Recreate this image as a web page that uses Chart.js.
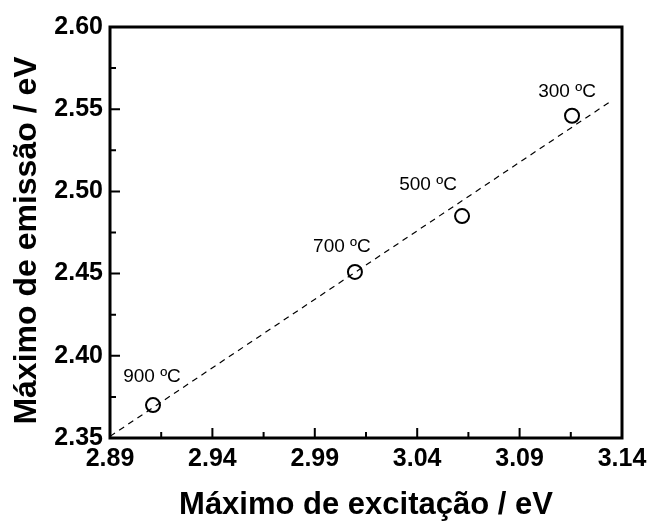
<!DOCTYPE html>
<html>
<head>
<meta charset="utf-8">
<script src="https://cdn.jsdelivr.net/npm/chart.js@4"></script>
<style>
  html, body { margin: 0; padding: 0; background: #fff; }
  #wrap { width: 647px; height: 524px; }
</style>
</head>
<body>
<div id="wrap"><canvas id="chart"></canvas></div>
<script>
// values
const temperatures = ["900 ºC", "700 ºC", "500 ºC", "300 ºC"];
const excitation = [2.911, 3.0096, 3.0619, 3.1156];
const emission = [2.370, 2.451, 2.485, 2.546];

// linear fit drawn as dashed line (end points)
const fitX = [2.89, 3.134];
const fitY = [2.351, 2.5544];

const xTicks = [2.89, 2.94, 2.99, 3.04, 3.09, 3.14];
const yTicks = [2.35, 2.40, 2.45, 2.50, 2.55, 2.60];

const yTitle = "Máximo de emissão / eV";
const xTitle = "Máximo de excitação / eV";

const FONT = "'Liberation Sans', Arial, sans-serif";

// label offsets from each point (px)
const labelOffsets = [[-1, -28], [-13, -25], [-34, -31], [-5, -24]];

const framePlugin = {
    id: "frame",
    afterDraw(chart) {
        const { ctx, chartArea: a, scales } = chart;
        ctx.save();
        ctx.strokeStyle = "#000";

        // inward ticks, major + minor
        ctx.lineWidth = 2;
        ctx.beginPath();
        for (let i = 0; i < xTicks.length; i++) {
            const px = scales.x.getPixelForValue(xTicks[i]);
            ctx.moveTo(px, a.bottom);
            ctx.lineTo(px, a.bottom - 10);
            if (i < xTicks.length - 1) {
                const pm = scales.x.getPixelForValue((xTicks[i] + xTicks[i + 1]) / 2);
                ctx.moveTo(pm, a.bottom);
                ctx.lineTo(pm, a.bottom - 6);
            }
        }
        for (let i = 0; i < yTicks.length; i++) {
            const py = scales.y.getPixelForValue(yTicks[i]);
            ctx.moveTo(a.left, py);
            ctx.lineTo(a.left + 10, py);
            if (i < yTicks.length - 1) {
                const pm = scales.y.getPixelForValue((yTicks[i] + yTicks[i + 1]) / 2);
                ctx.moveTo(a.left, pm);
                ctx.lineTo(a.left + 6, pm);
            }
        }
        ctx.stroke();

        // box
        ctx.lineWidth = 3;
        ctx.strokeRect(a.left, a.top, a.right - a.left, a.bottom - a.top);

        // temperature labels
        ctx.fillStyle = "#000";
        ctx.font = "19px " + FONT;
        ctx.textAlign = "center";
        ctx.textBaseline = "middle";
        const meta = chart.getDatasetMeta(1);
        meta.data.forEach((pt, i) => {
            const off = labelOffsets[i];
            ctx.fillText(temperatures[i], pt.x + off[0], pt.y + off[1]);
        });

        // y axis title, a bit below the axis centre as in the original
        ctx.translate(27, (a.top + a.bottom) / 2 + 8);
        ctx.rotate(-Math.PI / 2);
        ctx.font = "bold 32px " + FONT;
        ctx.fillText(yTitle, 0, 0);
        ctx.restore();
    }
};

new Chart(document.getElementById("chart"), {
    type: "scatter",
    data: {
        datasets: [
            {
                type: "line",
                data: fitX.map((x, i) => ({ x: x, y: fitY[i] })),
                borderColor: "#000",
                borderWidth: 1.2,
                borderDash: [6, 5],
                pointRadius: 0,
                fill: false,
            },
            {
                data: excitation.map((x, i) => ({ x: x, y: emission[i] })),
                pointStyle: "circle",
                pointRadius: 7,
                pointBorderWidth: 2,
                pointBorderColor: "#000",
                pointBackgroundColor: "rgba(0,0,0,0)",
            },
        ],
    },
    options: {
        responsive: true,
        maintainAspectRatio: false,
        animation: false,
        layout: { padding: { top: 27, right: 25, left: 0, bottom: 0 } },
        plugins: {
            legend: { display: false },
            tooltip: { enabled: false },
        },
        scales: {
            x: {
                type: "linear",
                min: 2.89,
                max: 3.14,
                afterBuildTicks: (s) => { s.ticks = xTicks.map(v => ({ value: v })); },
                afterFit: (s) => { s.height = 86; s.paddingLeft = 0; s.paddingRight = 0; },
                grid: { display: false, drawTicks: false },
                border: { display: false },
                ticks: {
                    color: "#000",
                    padding: 6,
                    font: { family: FONT, size: 25, weight: "bold" },
                    callback: (v) => Number(v).toFixed(2),
                    maxRotation: 0,
                },
                title: {
                    display: true,
                    text: xTitle,
                    color: "#000",
                    padding: { top: 0, bottom: 0 },
                    font: { family: FONT, size: 31, weight: "bold" },
                },
            },
            y: {
                type: "linear",
                min: 2.35,
                max: 2.60,
                afterBuildTicks: (s) => { s.ticks = yTicks.map(v => ({ value: v })); },
                afterFit: (s) => { s.width = 110; s.paddingTop = 0; s.paddingBottom = 0; },
                grid: { display: false, drawTicks: false },
                border: { display: false },
                ticks: {
                    color: "#000",
                    padding: 7,
                    font: { family: FONT, size: 25, weight: "bold" },
                    callback: (v) => Number(v).toFixed(2),
                },
                title: { display: false },
            },
        },
    },
    plugins: [framePlugin],
});
</script>
</body>
</html>
